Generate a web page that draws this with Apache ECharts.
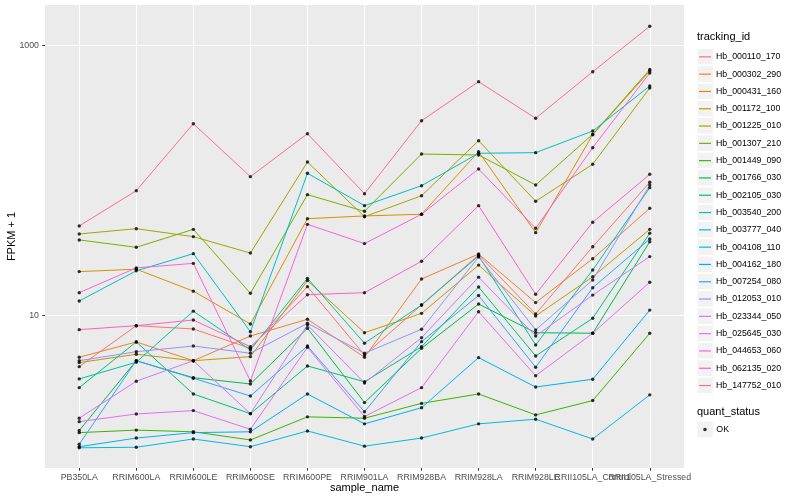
<!DOCTYPE html>
<html><head><meta charset="utf-8">
<script src="https://cdn.jsdelivr.net/npm/echarts@6/dist/echarts.min.js"></script>
<style>html,body{margin:0;padding:0;background:#fff}#c{width:800px;height:500px}</style>
</head><body><div id="c"></div>
<script>
const categories = ['PB350LA','RRIM600LA','RRIM600LE','RRIM600SE','RRIM600PE','RRIM901LA','RRIM928BA','RRIM928LA','RRIM928LE','RRII105LA_Control','RRII105LA_Stressed'];
const trackingIds = ['Hb_000110_170','Hb_000302_290','Hb_000431_160','Hb_001172_100','Hb_001225_010','Hb_001307_210','Hb_001449_090','Hb_001766_030','Hb_002105_030','Hb_003540_200','Hb_003777_040','Hb_004108_110','Hb_004162_180','Hb_007254_080','Hb_012053_010','Hb_023344_050','Hb_025645_030','Hb_044653_060','Hb_062135_020','Hb_147752_010'];
const colors = ['#F8766D','#EA8331','#D89000','#C09B00','#A3A500','#7CAE00','#39B600','#00BB4E','#00BF7D','#00C1A3','#00BFC4','#00BAE0','#00B0F6','#35A2FF','#9590FF','#C77CFF','#E76BF3','#FA62DB','#FF62BC','#FF6C91'];

// FPKM + 1 per sample (same order as categories)
const Hb_000110_170 = [4.19, 8.43, 7.97, 5.73, 16.4, 5.11, 12.0, 28.2, 10.3, 32.4, 97.3];
const Hb_000302_290 = [4.92, 6.39, 4.64, 7.07, 9.40, 4.92, 18.7, 28.6, 12.5, 26.4, 62.5];
const Hb_000431_160 = [21.2, 22.1, 15.2, 8.68, 52.3, 54.8, 56.4, 164, 41.2, 219, 649];
const Hb_001172_100 = [4.49, 5.18, 4.64, 4.97, 18.2, 7.48, 10.4, 23.7, 9.95, 19.4, 43.6];
const Hb_001225_010 = [40.3, 44.1, 38.5, 29.1, 137.5, 54.1, 77.4, 197.8, 70.4, 132.3, 486];
const Hb_001307_210 = [36.4, 32.1, 43.6, 14.65, 78.8, 59.3, 157.6, 155, 92.9, 220.7, 666];
const Hb_001449_090 = [1.36, 1.42, 1.38, 1.20, 1.78, 1.74, 2.24, 2.63, 1.84, 2.35, 7.41];
const Hb_001766_030 = [1.41, 4.64, 3.47, 3.12, 8.07, 2.27, 5.73, 12.2, 7.48, 7.41, 35.3];
const Hb_002105_030 = [2.93, 6.39, 2.63, 1.88, 4.24, 3.24, 5.89, 16.3, 5.03, 9.57, 40.8];
const Hb_003540_200 = [3.40, 4.52, 10.8, 5.57, 18.9, 6.25, 12.0, 27.7, 6.07, 21.8, 88.8];
const Hb_003777_040 = [12.85, 21.5, 28.8, 7.61, 113.4, 65.3, 91.8, 159.6, 161.3, 233.4, 503];
const Hb_004108_110 = [1.05, 1.06, 1.22, 1.07, 1.40, 1.08, 1.24, 1.58, 1.71, 1.22, 2.59];
const Hb_004162_180 = [1.07, 1.24, 1.36, 1.38, 2.63, 1.58, 2.08, 4.89, 2.96, 3.38, 11.0];
const Hb_007254_080 = [1.115, 4.64, 3.44, 2.54, 5.96, 1.94, 6.42, 14.1, 4.15, 16.1, 37.0];
const Hb_012053_010 = [4.64, 5.41, 5.96, 5.27, 8.78, 5.27, 7.93, 27.2, 7.84, 18.4, 92.9];
const Hb_023344_050 = [1.74, 3.27, 4.64, 1.88, 8.53, 3.17, 6.87, 19.3, 7.07, 14.2, 27.4];
const Hb_025645_030 = [1.64, 1.87, 1.98, 1.44, 5.83, 1.79, 2.93, 10.7, 3.59, 7.41, 17.7];
const Hb_044653_060 = [14.8, 22.6, 24.4, 3.28, 47.5, 34.2, 56.4, 122.1, 44.4, 175.6, 628];
const Hb_062135_020 = [7.88, 8.43, 9.29, 5.89, 14.3, 14.8, 25.3, 65.3, 14.4, 49.2, 111.5];
const Hb_147752_010 = [46.2, 84.3, 264.4, 107.1, 222.9, 80.1, 278.3, 541.2, 289.9, 642, 1392];

const seriesValues = [Hb_000110_170, Hb_000302_290, Hb_000431_160, Hb_001172_100, Hb_001225_010, Hb_001307_210, Hb_001449_090, Hb_001766_030, Hb_002105_030, Hb_003540_200, Hb_003777_040, Hb_004108_110, Hb_004162_180, Hb_007254_080, Hb_012053_010, Hb_023344_050, Hb_025645_030, Hb_044653_060, Hb_062135_020, Hb_147752_010];
const yTickLabels = [10, 1000];
const quantStatus = ['OK'];

const font = '"Liberation Sans", Arial, Helvetica, sans-serif';
const chart = echarts.init(document.getElementById('c'), null, {renderer: 'canvas'});

const catIdx = categories.map((c, i) => i);
const n = categories.length;
const lineSeries = trackingIds.map((id, k) => ({
  name: id, type: 'line', symbol: 'none', silent: true, z: 2,
  data: seriesValues[k].map((v, i) => [i, v]),
  lineStyle: {width: 1, color: colors[k]}, itemStyle: {color: colors[k]}
}));
const okPoints = [];
seriesValues.forEach(arr => arr.forEach((v, i) => okPoints.push([i, v])));

const keyRects = trackingIds.map((id, i) => ({
  type: 'rect', z: 0, shape: {x: 697.4, y: 48.9 + 17.3 * i, width: 15.4, height: 15.6},
  style: {fill: '#F2F2F2'}
}));
keyRects.push({type: 'rect', z: 0, shape: {x: 697.4, y: 421.7, width: 15.4, height: 15.6}, style: {fill: '#F2F2F2'}});

// the last two sample names overlap in the original; give each its own label axis
function labelAxis(values) {
  return {
    type: 'value', min: -0.6, max: 10.6, minInterval: 1, maxInterval: 1, position: 'bottom', offset: 0,
    axisLine: {show: false, onZero: false}, axisTick: {show: false}, splitLine: {show: false},
    axisLabel: {customValues: values, formatter: v => categories[Math.round(v)] || '', color: '#4D4D4D',
      fontSize: 8.8, fontFamily: font, margin: 5, hideOverlap: false, showMinLabel: true, showMaxLabel: true}
  };
}
const mainX = Object.assign(labelAxis(catIdx.slice(0, n - 2)), {
  axisTick: {show: true, length: 2.7, lineStyle: {color: '#333333', width: 1}, customValues: catIdx},
  splitLine: {show: true, lineStyle: {color: '#FFFFFF', width: 1}}
});

chart.setOption({
  animation: false,
  backgroundColor: '#FFFFFF',
  grid: {left: 45, top: 5, width: 639, height: 463, show: true, backgroundColor: '#EBEBEB', borderWidth: 0, containLabel: false, outerBoundsMode: 'none'},
  xAxis: [mainX, labelAxis([n - 2]), labelAxis([n - 1])],
  yAxis: {
    type: 'log', logBase: 10, min: 0.744, max: 2002, position: 'left',
    axisLine: {show: false, onZero: false},
    axisTick: {show: true, length: 2.7, lineStyle: {color: '#333333', width: 1}, customValues: yTickLabels},
    axisLabel: {customValues: yTickLabels, formatter: v => String(Math.round(v)), color: '#4D4D4D', fontSize: 8.8, fontFamily: font, margin: 6, showMinLabel: true, showMaxLabel: true},
    splitLine: {show: true, lineStyle: {color: '#FFFFFF', width: 1}}
  },
  legend: [{
    orient: 'vertical', left: 699, top: 48.2, padding: 0, itemGap: 0,
    itemWidth: 12, itemHeight: 1.2, icon: 'rect', selectedMode: false,
    data: trackingIds.map((id, k) => ({name: id, itemStyle: {color: colors[k]}})),
    textStyle: {fontSize: 8.8, fontFamily: font, color: '#000000', lineHeight: 17.3}
  }, {
    orient: 'vertical', left: 703.2, top: 420.9, padding: 0, itemGap: 0,
    itemWidth: 3.6, itemHeight: 3.6, icon: 'circle', selectedMode: false,
    data: quantStatus,
    textStyle: {fontSize: 8.8, fontFamily: font, color: '#000000', lineHeight: 17.3, padding: [0, 0, 0, 4.5]}
  }],
  graphic: keyRects.concat([
    {type: 'text', z: 5, left: 697, top: 31, style: {text: 'tracking_id', fontSize: 11, fontFamily: font, fill: '#000000'}},
    {type: 'text', z: 5, left: 697, top: 406, style: {text: 'quant_status', fontSize: 11, fontFamily: font, fill: '#000000'}},
    {type: 'text', z: 5, x: 364.5, y: 488, style: {text: 'sample_name', fontSize: 11, fontFamily: font, fill: '#000000', align: 'center', verticalAlign: 'middle'}},
    {type: 'text', z: 5, x: 12, y: 236.5, rotation: Math.PI / 2, style: {text: 'FPKM + 1', fontSize: 11, fontFamily: font, fill: '#000000', align: 'center', verticalAlign: 'middle'}}
  ]),
  series: lineSeries.concat([{
    name: quantStatus[0], type: 'scatter', symbol: 'circle', symbolSize: 3.4, silent: true, z: 3,
    data: okPoints, itemStyle: {color: '#000000'}
  }])
});
</script></body></html>
